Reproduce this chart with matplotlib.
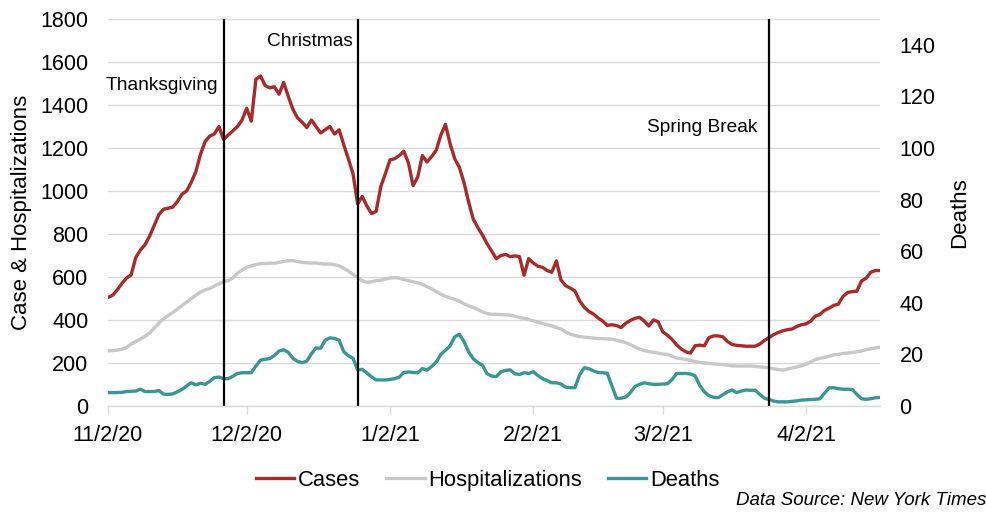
import matplotlib
matplotlib.use("Agg")
import matplotlib.pyplot as plt
import matplotlib.dates as mdates
from matplotlib.ticker import FuncFormatter, MultipleLocator
import pandas as pd

plt.rcParams['font.family'] = ['Liberation Sans', 'DejaVu Sans']

start_date = '2020-11-02'

cases = [505, 515, 540, 570, 595, 610, 690, 725, 750, 790,
         840, 890, 915, 920, 925, 950, 985, 1000, 1040, 1090,
         1170, 1230, 1255, 1265, 1300, 1240, 1260, 1280, 1300, 1330,
         1385, 1325, 1520, 1535, 1490, 1480, 1485, 1450, 1505, 1440,
         1380, 1340, 1320, 1295, 1330, 1300, 1270, 1285, 1300, 1265,
         1285, 1215, 1150, 1080, 940, 975, 930, 895, 905, 1020,
         1080, 1145, 1150, 1165, 1185, 1130, 1025, 1065, 1165, 1135,
         1160, 1190, 1260, 1310, 1220, 1150, 1110, 1040, 950, 870,
         830, 795, 755, 720, 685, 700, 705, 695, 698, 695,
         608, 685, 665, 650, 645, 630, 622, 675, 585, 560,
         548, 535, 490, 460, 440, 428, 410, 395, 375, 378,
         374, 365, 385, 398, 408, 412, 395, 372, 400, 392,
         345, 330, 310, 285, 265, 252, 246, 280, 283, 280,
         318, 326, 326, 322, 300, 286, 282, 280, 278, 278,
         278, 288, 305, 318, 332, 342, 350, 355, 358, 370,
         378, 382, 395, 418, 426, 445, 455, 468, 474, 510,
         528, 532, 534, 582, 594, 622, 630, 630]

hospitalizations = [256, 258, 260, 264, 272, 288, 300, 312, 324, 340,
                    362, 385, 405, 420, 435, 450, 468, 482, 500, 515,
                    530, 540, 546, 558, 568, 578, 583, 595, 618, 632,
                    645, 652, 658, 662, 663, 664, 664, 668, 672, 676,
                    676, 672, 668, 666, 665, 665, 662, 660, 660, 657,
                    652, 640, 628, 612, 598, 583, 575, 578, 583, 585,
                    590, 595, 597, 595, 588, 583, 578, 572, 566, 555,
                    545, 532, 520, 510, 502, 496, 488, 475, 466, 458,
                    448, 438, 430, 427, 426, 425, 424, 423, 418, 412,
                    408, 402, 396, 390, 384, 378, 372, 365, 358, 345,
                    334, 328, 323, 320, 318, 316, 314, 313, 312, 311,
                    306, 300, 295, 285, 275, 265, 258, 253, 250, 246,
                    242, 240, 232, 223, 220, 217, 212, 207, 203, 200,
                    198, 196, 194, 192, 190, 187, 186, 186, 186, 186,
                    184, 182, 180, 178, 173, 169, 167, 172, 177, 182,
                    187, 195, 205, 215, 222, 226, 232, 238, 240, 244,
                    246, 249, 252, 256, 262, 266, 270, 274]

deaths = [5.2, 5.2, 5.2, 5.3, 5.6, 5.7, 5.8, 6.5, 5.6, 5.6,
          5.6, 6.0, 4.6, 4.5, 4.7, 5.5, 6.4, 7.8, 9.0, 8.2,
          8.8, 8.4, 9.5, 11.0, 11.2, 10.6, 10.6, 11.5, 12.6, 12.9,
          12.9, 12.9, 15.5, 17.8, 18.1, 18.4, 19.6, 21.3, 21.8, 20.8,
          18.5, 17.3, 16.8, 17.4, 20.2, 22.5, 22.4, 25.5, 26.4, 26.2,
          25.5, 21.0, 19.5, 18.5, 14.0, 14.2, 12.8, 11.3, 10.1, 10.1,
          10.1, 10.3, 10.6, 11.2, 13.0, 13.2, 13.0, 12.9, 14.5, 13.9,
          15.3, 17.0, 20.0, 21.6, 23.3, 26.8, 27.8, 25.0, 21.0, 18.3,
          16.9, 15.8, 12.5, 11.6, 11.4, 13.3, 13.8, 14.0, 12.5, 12.2,
          12.9, 12.6, 13.3, 11.8, 10.6, 9.8, 9.0, 9.0, 8.5, 7.3,
          7.1, 7.1, 12.0, 14.8, 14.5, 13.6, 13.0, 12.9, 12.7, 7.8,
          3.0, 3.0, 3.5, 5.2, 7.6, 8.4, 9.0, 8.6, 8.4, 8.4,
          8.5, 8.6, 10.2, 12.6, 12.6, 12.6, 12.4, 11.7, 8.0, 5.5,
          4.0, 3.4, 3.2, 4.4, 5.5, 6.2, 5.2, 5.8, 6.2, 6.1,
          6.1, 4.5, 3.0, 2.5, 1.9, 1.6, 1.6, 1.6, 1.8, 2.0,
          2.3, 2.4, 2.5, 2.6, 2.8, 5.0, 7.0, 7.1, 6.7, 6.5,
          6.5, 6.4, 4.5, 2.8, 2.6, 2.8, 3.2, 3.3]

event_names = ['Thanksgiving', 'Christmas', 'Spring Break']
event_dates = ['2020-11-27', '2020-12-26', '2021-03-25']
event_label_values = [1490, 1695, 1295]
event_label_gap_px = [5, 5, 12]

dates = pd.date_range(start_date, periods=len(cases), freq='D')

fig = plt.figure(figsize=(9.87, 5.12), dpi=100)
ax = fig.add_axes([108/987, 1-406/512, (880-108)/987, (406-19)/512])
ax2 = ax.twinx()

c_cases = '#A82A2A'
c_hosp = '#C8C8C8'
c_deaths = '#3B9594'

l1, = ax.plot(dates, cases, color=c_cases, lw=2.4, label='Cases', zorder=3)
l2, = ax.plot(dates, hospitalizations, color=c_hosp, lw=2.4, label='Hospitalizations', zorder=2)
l3, = ax2.plot(dates, deaths, color=c_deaths, lw=2.4, label='Deaths', zorder=2)

ax.set_ylim(0, 1800)
ax2.set_ylim(0, 150)
ax.yaxis.set_major_locator(MultipleLocator(200))
ax2.set_yticks(range(0, 141, 20))
ax.set_xlim(dates[0], dates[-1])

ax.grid(axis='y', color='#D9D9D9', lw=1.0)
ax.set_axisbelow(True)
for a in (ax, ax2):
    for s in ('top', 'left', 'right'):
        a.spines[s].set_visible(False)
ax2.spines['bottom'].set_visible(False)
ax.spines['bottom'].set_color('#D9D9D9')
ax.spines['bottom'].set_linewidth(1.0)

ax.xaxis.set_major_locator(mdates.MonthLocator(bymonthday=2))
ax.xaxis.set_major_formatter(FuncFormatter(
    lambda v, p: (lambda d: f"{d.month}/{d.day}/{d.year % 100}")(mdates.num2date(v))))
ax.tick_params(axis='x', colors='#D9D9D9', labelcolor='black', length=6, width=1,
               labelsize=15.5, pad=8)
ax.tick_params(axis='y', length=0, labelsize=15.5, pad=14)
ax2.tick_params(axis='y', length=0, labelsize=15.5, pad=14)

ax.set_ylabel('Case & Hospitalizations', fontsize=16, labelpad=6)
ax2.set_ylabel('Deaths', fontsize=16, labelpad=10)

for name, ed, yv, gap in zip(event_names, event_dates, event_label_values, event_label_gap_px):
    d = pd.Timestamp(ed)
    ax2.axvline(d, color='black', lw=1.6, zorder=5)
    ax.annotate(name, xy=(d, yv), xytext=(-gap * 0.72, 0), textcoords='offset points',
                ha='right', va='center', fontsize=13.8)

fig.legend(handles=[l1, l2, l3], loc='center', bbox_to_anchor=(0.494, 0.062), ncol=3,
           frameon=False, fontsize=15.8, handlelength=1.75, handletextpad=0.15,
           columnspacing=1.2)
fig.text(0.999, 0.023, 'Data Source: New York Times', ha='right', va='center',
         fontsize=13.5, style='italic')

fig.savefig('out.png', dpi=100)
